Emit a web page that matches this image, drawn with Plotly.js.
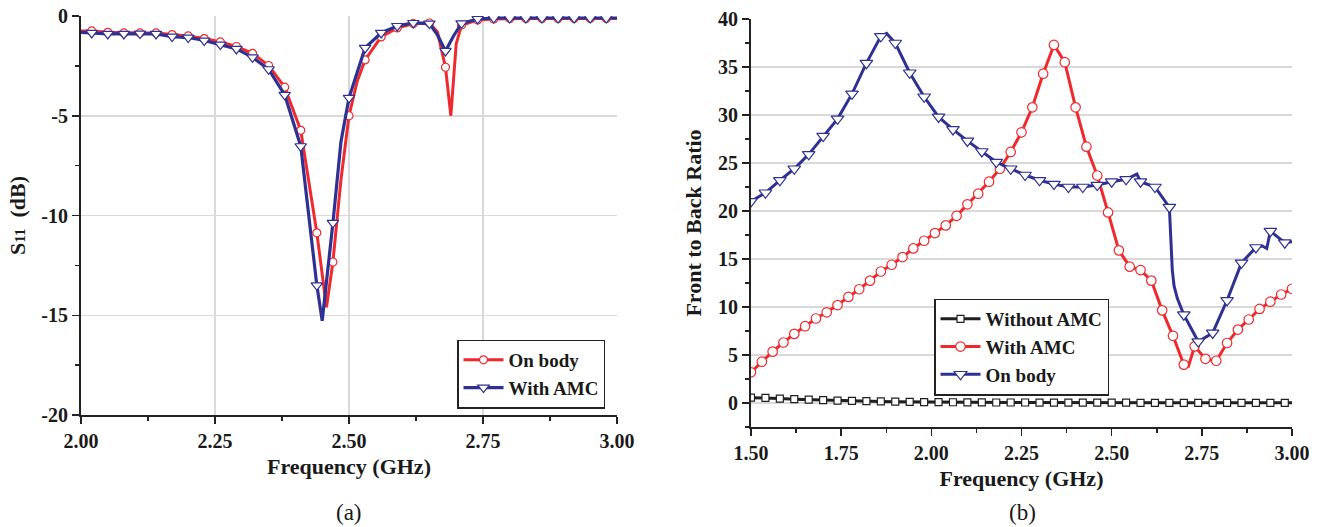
<!DOCTYPE html>
<html>
<head>
<meta charset="utf-8">
<script src="https://cdn.plot.ly/plotly-3.0.1.min.js"></script>
<style>html,body{margin:0;padding:0;background:#fff;}#chart{width:1322px;height:527px;}</style>
</head>
<body>
<div id="chart"></div>
<script>
// ---------- Panel (a): S11 ----------
var freqA = [2.02,2.05,2.08,2.11,2.14,2.17,2.20,2.23,2.26,2.29,2.32,2.35,2.38,2.41,2.44,2.47,2.50,2.53,2.56,2.59,2.62,2.65,2.68,2.71,2.74,2.77,2.80,2.83,2.86,2.89,2.92,2.95,2.98];
var onBodyA = [-0.75,-0.82,-0.85,-0.85,-0.85,-0.93,-1.0,-1.13,-1.3,-1.53,-1.87,-2.48,-3.57,-5.73,-10.87,-12.33,-5.0,-2.2,-1.05,-0.6,-0.38,-0.35,-2.57,-0.45,-0.2,-0.15,-0.12,-0.12,-0.12,-0.12,-0.12,-0.12,-0.12];
var withAmcA = [-0.85,-0.9,-0.9,-0.88,-0.9,-1.03,-1.08,-1.23,-1.43,-1.65,-2.07,-2.67,-3.95,-6.53,-13.5,-10.37,-4.1,-1.6,-0.85,-0.5,-0.35,-0.38,-1.75,-0.37,-0.15,-0.1,-0.1,-0.1,-0.1,-0.1,-0.1,-0.1,-0.1];
// line-only points (between markers)
var onBodyExtraF = [2.00,2.458,2.485,2.515,2.665,2.69,2.70,3.00];
var onBodyExtraV = [-0.75,-14.6,-8.2,-3.3,-0.8,-5.0,-1.4,-0.12];
var withAmcExtraF = [2.00,2.45,2.485,2.515,2.665,2.695,3.00];
var withAmcExtraV = [-0.82,-15.28,-6.3,-2.8,-0.95,-1.0,-0.1];
var yTicksA = [-20,-15,-10,-5,0];
var yTickTextA = ['-20','-15','-10','-5','0'];

// ---------- Panel (b): Front to back ratio ----------
var freqNoAmc = [1.50,1.54,1.58,1.62,1.66,1.70,1.74,1.78,1.82,1.86,1.90,1.94,1.98,2.02,2.06,2.10,2.14,2.18,2.22,2.26,2.30,2.34,2.38,2.42,2.46,2.50,2.54,2.58,2.62,2.66,2.70,2.74,2.78,2.82,2.86,2.90,2.94,2.98];
var noAmcB = [0.55,0.53,0.46,0.4,0.35,0.29,0.25,0.22,0.19,0.16,0.14,0.12,0.1,0.09,0.08,0.07,0.06,0.05,0.05,0.05,0.04,0.04,0.04,0.03,0.03,0.03,0.03,0.02,0.02,0.02,0.02,0.02,0.02,0.02,0.02,0.02,0.02,0.02];
var noAmcExtraF = [3.00];
var noAmcExtraV = [0.02];

var freqAmcB = [1.50,1.53,1.56,1.59,1.62,1.65,1.68,1.71,1.74,1.77,1.80,1.83,1.86,1.89,1.92,1.95,1.98,2.01,2.04,2.07,2.10,2.13,2.16,2.19,2.22,2.25,2.28,2.31,2.34,2.37,2.40,2.43,2.46,2.49,2.52,2.55,2.58,2.61,2.64,2.67,2.70,2.73,2.76,2.79,2.82,2.85,2.88,2.91,2.94,2.97,3.00];
var withAmcB = [3.2,4.3,5.35,6.3,7.2,8.0,8.8,9.45,10.2,11.05,11.85,12.75,13.7,14.4,15.2,16.1,16.9,17.7,18.5,19.5,20.7,21.8,23.05,24.4,26.15,28.2,30.8,34.3,37.3,35.5,30.8,26.7,23.7,19.85,15.9,14.2,13.85,12.75,9.65,7.0,4.0,5.9,4.6,4.4,6.25,7.65,8.7,9.8,10.55,11.3,11.9];
var withAmcExtraFB = [2.713];
var withAmcExtraVB = [3.85];

var freqBodyB = [1.50,1.54,1.58,1.62,1.66,1.70,1.74,1.78,1.82,1.86,1.90,1.94,1.98,2.02,2.06,2.10,2.14,2.18,2.22,2.26,2.30,2.34,2.38,2.42,2.46,2.50,2.54,2.58,2.62,2.66,2.70,2.74,2.78,2.82,2.86,2.90,2.94,2.98];
var onBodyB = [21.0,21.9,23.2,24.4,25.9,27.8,29.6,32.2,35.4,38.2,37.5,34.4,31.9,29.8,28.5,27.3,26.2,25.1,24.4,23.75,23.2,22.8,22.5,22.5,22.7,23.05,23.3,23.05,22.5,20.4,9.2,6.4,7.3,10.7,14.6,16.2,17.9,16.7];
var onBodyExtraFB = [1.876,2.57,2.668,2.673,2.682,2.918,2.93,3.00];
var onBodyExtraVB = [38.5,23.85,13.9,12.2,10.9,16.35,16.1,16.8];

function merge(xm, ym, xe, ye) {
  var pts = xm.map(function (x, i) { return [x, ym[i]]; })
    .concat(xe.map(function (x, i) { return [x, ye[i]]; }));
  pts.sort(function (a, b) { return a[0] - b[0]; });
  return { x: pts.map(function (p) { return p[0]; }), y: pts.map(function (p) { return p[1]; }) };
}

var RED = '#ee2a2e', BLUE = '#2e3192', BLACK = '#231f20';
var FONT = 'Liberation Serif';

function series(name, xm, ym, xe, ye, color, symbol, msize, lw, xa, ya, legendId) {
  var m = merge(xm, ym, xe, ye);
  var mk = { symbol: symbol, size: msize, color: '#ffffff', line: { color: color, width: 1.2 } };
  return [
    { x: m.x, y: m.y, xaxis: xa, yaxis: ya, mode: 'lines', line: { color: color, width: lw }, showlegend: false, hoverinfo: 'skip' },
    { x: xm, y: ym, xaxis: xa, yaxis: ya, mode: 'markers', marker: mk, showlegend: false },
    { x: [null], y: [null], xaxis: xa, yaxis: ya, mode: 'lines+markers', name: name, legend: legendId,
      line: { color: color, width: lw }, marker: mk, showlegend: true }
  ];
}

var traces = [].concat(
  series('On body', freqA, onBodyA, onBodyExtraF, onBodyExtraV, RED, 'circle', 8, 3, 'x', 'y', 'legend'),
  series('With AMC', freqA, withAmcA, withAmcExtraF, withAmcExtraV, BLUE, 'triangle-down', 10, 3.2, 'x', 'y', 'legend'),
  series('Without AMC', freqNoAmc, noAmcB, noAmcExtraF, noAmcExtraV, BLACK, 'square', 7, 3, 'x2', 'y2', 'legend2'),
  series('With AMC', freqAmcB, withAmcB, withAmcExtraFB, withAmcExtraVB, RED, 'circle', 9.5, 3, 'x2', 'y2', 'legend2'),
  series('On body', freqBodyB, onBodyB, onBodyExtraFB, onBodyExtraVB, BLUE, 'triangle-down', 11, 3, 'x2', 'y2', 'legend2')
);

var AX = '#222', GRID = '#d9d9d9';
var tickFont = { family: FONT, size: 20, color: '#1a1a1a', weight: 700 };
var titleFont = { family: FONT, size: 22, color: '#1a1a1a', weight: 700 };
var legendFont = { family: FONT, size: 19, color: '#1a1a1a', weight: 700 };

function baseAxis(extra) {
  var a = {
    showline: true, linecolor: AX, linewidth: 2, zeroline: false,
    ticks: 'outside', ticklen: 7, tickwidth: 1.5, tickcolor: AX,
    tickfont: tickFont, showgrid: false, gridcolor: GRID, gridwidth: 1.5
  };
  for (var k in extra) a[k] = extra[k];
  return a;
}
function mirrorAxis(extra) {
  var a = {
    showline: true, linecolor: AX, linewidth: 2, zeroline: false,
    ticks: 'inside', ticklen: 6, tickwidth: 1.5, tickcolor: AX,
    showticklabels: false, showgrid: false
  };
  for (var k in extra) a[k] = extra[k];
  return a;
}

var domAx = [81 / 1322, 617 / 1322], domAy = [1 - 415 / 527, 1 - 16 / 527];
var domBx = [751 / 1322, 1292 / 1322], domBy = [1 - 427 / 527, 1 - 19 / 527];

var layout = {
  width: 1322, height: 527,
  margin: { l: 0, r: 0, t: 0, b: 0 },
  paper_bgcolor: '#fff', plot_bgcolor: '#fff',
  font: { family: FONT, color: '#1a1a1a' },
  xaxis: baseAxis({
    domain: domAx, anchor: 'y', range: [2, 3], tick0: 2, dtick: 0.25, tickformat: '.2f',
    showgrid: true, minor: { dtick: 0.125, ticks: 'outside', ticklen: 4, tickcolor: AX, showgrid: false },
    title: { text: 'Frequency (GHz)', font: titleFont, standoff: 8 }
  }),
  yaxis: baseAxis({
    domain: domAy, anchor: 'x', range: [-20, 0], tickmode: 'array', tickvals: yTicksA, ticktext: yTickTextA,
    showgrid: true, minor: { dtick: 2.5, tick0: 0, ticks: 'outside', ticklen: 4, tickcolor: AX, showgrid: false },
    title: { text: 'S<span style="font-size:15px">11</span>  (dB)', font: titleFont, standoff: 10 }
  }),
  xaxis3: mirrorAxis({ overlaying: 'x', anchor: 'y', side: 'top', range: [2, 3], tick0: 2, dtick: 0.125 }),
  yaxis3: mirrorAxis({ overlaying: 'y', anchor: 'x', side: 'right', range: [-20, 0], tick0: -20, dtick: 20 / 14 }),

  xaxis2: baseAxis({
    domain: domBx, anchor: 'y2', range: [1.5, 3], tick0: 1.5, dtick: 0.25, tickformat: '.2f',
    minor: { dtick: 0.125, ticks: 'outside', ticklen: 4, tickcolor: AX, showgrid: false },
    title: { text: 'Frequency (GHz)', font: titleFont, standoff: 8 }
  }),
  yaxis2: baseAxis({
    domain: domBy, anchor: 'x2', range: [-2.5, 40], tick0: 0, dtick: 5,
    showgrid: true, minor: { dtick: 2.5, tick0: 0, ticks: 'outside', ticklen: 4, tickcolor: AX, showgrid: false },
    title: { text: 'Front to Back Ratio', font: titleFont, standoff: 10 }
  }),
  xaxis4: mirrorAxis({
    overlaying: 'x2', anchor: 'y2', side: 'top', range: [1.5, 3], tick0: 1.5, dtick: 0.3,
    showgrid: true, gridcolor: GRID, gridwidth: 1.5,
    minor: { dtick: 0.15, ticks: 'inside', ticklen: 6, tickcolor: AX, showgrid: false }
  }),
  yaxis4: mirrorAxis({ overlaying: 'y2', anchor: 'x2', side: 'right', range: [-2.5, 40], tick0: 0, dtick: 2.5 }),

  legend: {
    x: 457 / 1322, y: 1 - 374 / 527, xanchor: 'left', yanchor: 'middle',
    bgcolor: '#fff', bordercolor: AX, borderwidth: 1.5, itemwidth: 40,
    font: legendFont, tracegroupgap: 0
  },
  legend2: {
    x: 934 / 1322, y: 1 - 347 / 527, xanchor: 'left', yanchor: 'middle',
    bgcolor: '#fff', bordercolor: AX, borderwidth: 1.5, itemwidth: 40,
    font: legendFont, tracegroupgap: 0
  },
  annotations: [
    { text: '(a)', xref: 'paper', yref: 'paper', x: 349 / 1322, y: 1 - 512 / 527, xanchor: 'center', yanchor: 'middle',
      showarrow: false, font: { family: FONT, size: 23, color: '#1a1a1a' } },
    { text: '(b)', xref: 'paper', yref: 'paper', x: 1022 / 1322, y: 1 - 512 / 527, xanchor: 'center', yanchor: 'middle',
      showarrow: false, font: { family: FONT, size: 23, color: '#1a1a1a' } }
  ]
};

Plotly.newPlot('chart', traces, layout, { displayModeBar: false, staticPlot: true });
</script>
</body>
</html>
